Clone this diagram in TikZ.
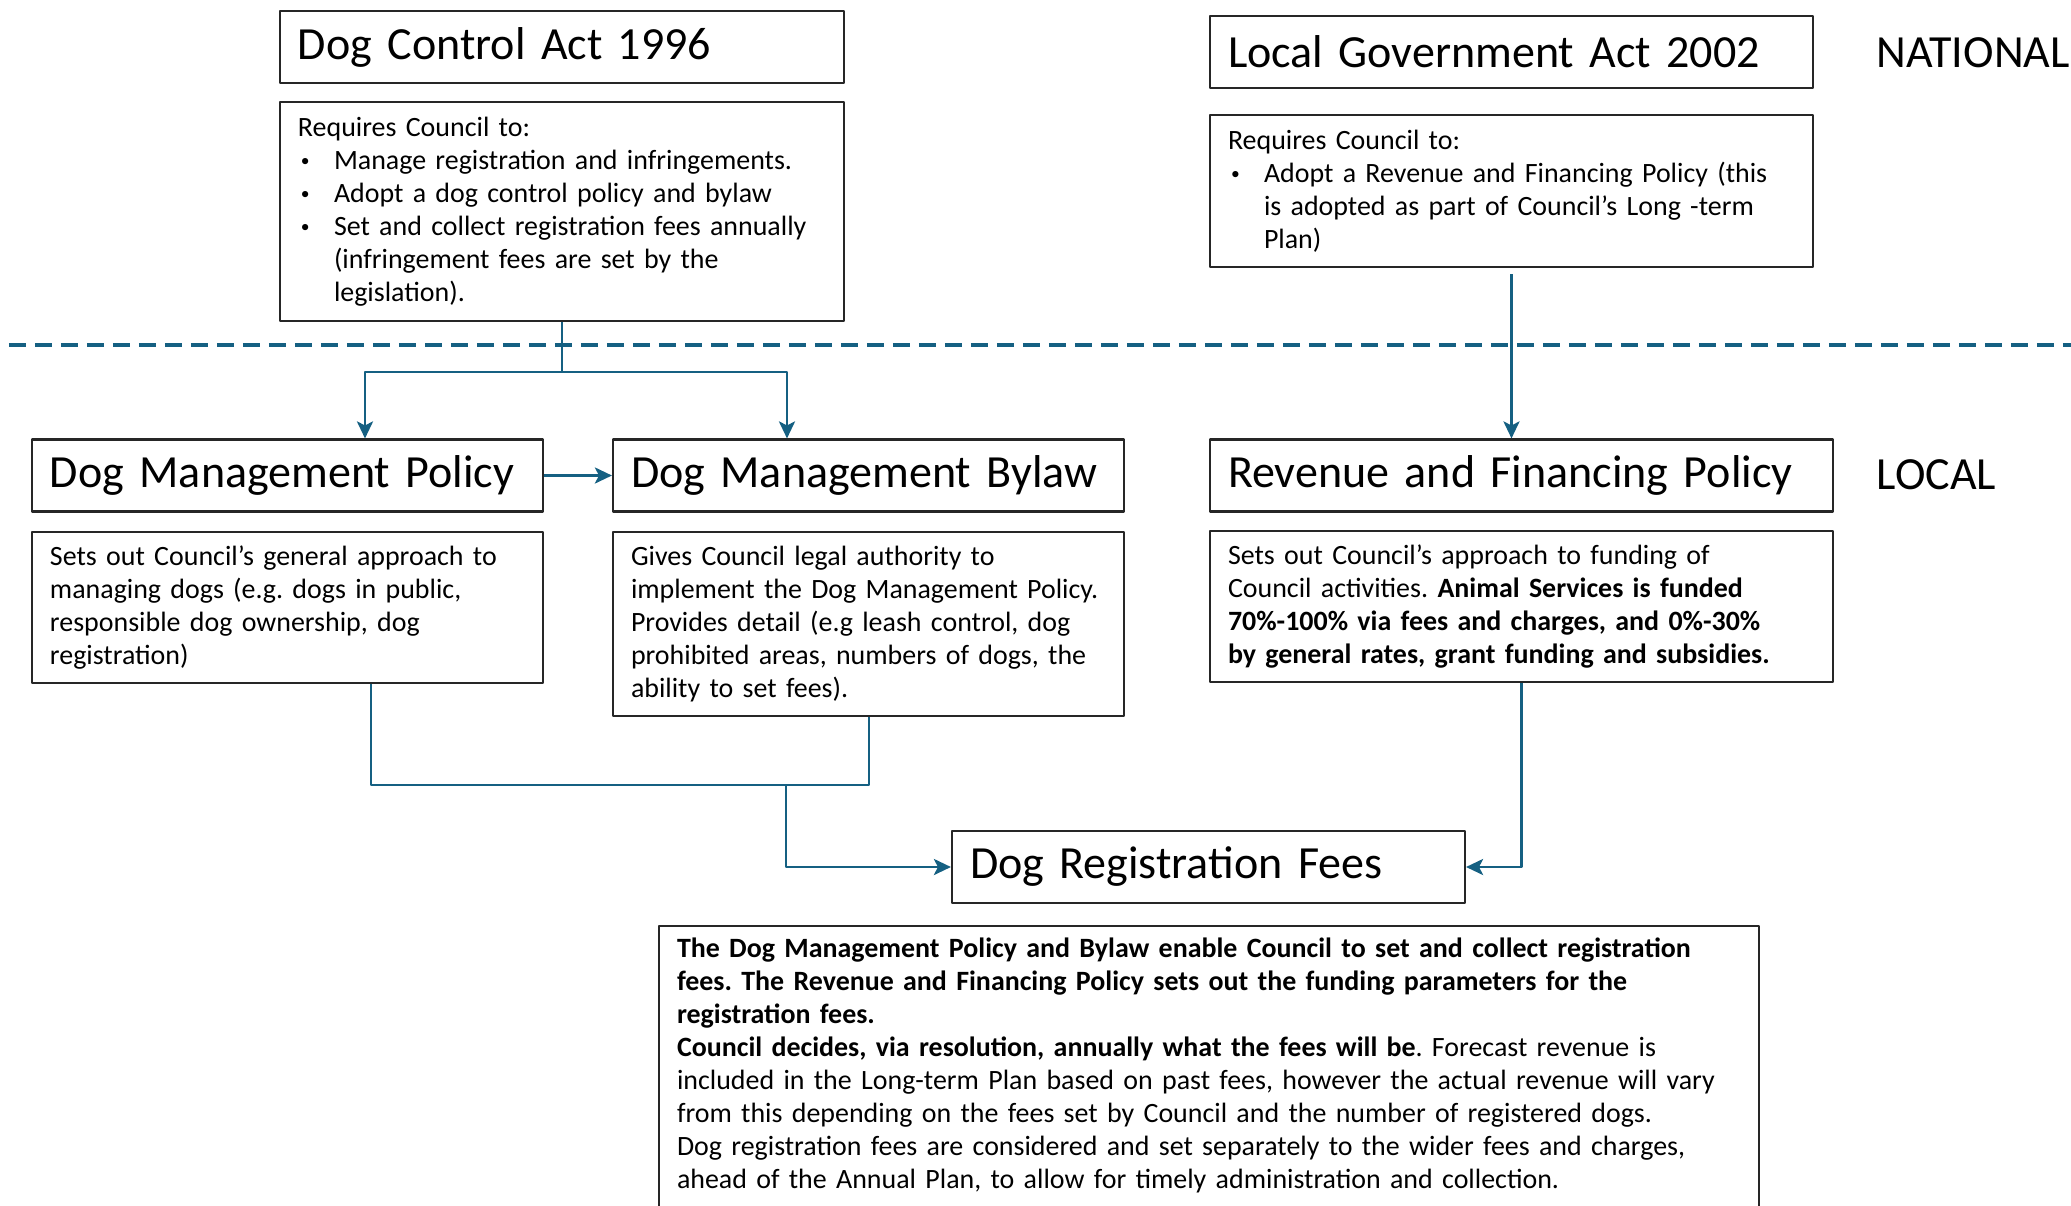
\documentclass[tikz,border=0pt]{standalone}
\usepackage{fontspec}
\setmainfont{Carlito}
\usetikzlibrary{arrows.meta}
\definecolor{flowblue}{HTML}{156082}
\frenchspacing
\newcommand{\bpt}{\makebox[0.36cm][l]{\hspace{0.03cm}\raisebox{0.7pt}{\fontsize{5}{5}\selectfont\textbullet}}}
\newcommand{\bin}{\hspace*{0.36cm}}

\begin{document}
\begin{tikzpicture}[line join=round, >={Stealth[length=1.7mm, width=1.6mm, inset=0.4mm]},
	box/.style={draw=black!85, line width=0.6pt, inner xsep=0.18cm, inner ysep=0pt, align=left},
	head/.style={box, minimum height=0.72cm, font=\fontsize{13.1}{16}\selectfont},
	txt/.style={box, font=\fontsize{7.95}{9.4}\selectfont},
	tag/.style={inner sep=0pt, anchor=west, font=\fontsize{13.1}{16}\selectfont},
	flow/.style={draw=flowblue, line width=0.8pt}]
	\useasboundingbox (0,0) rectangle (20.71,-12.06);
	\clip (0,0) rectangle (20.71,-12.06);
	\path 
	(0.09,-3.45) coordinate (lineL)
	(20.71,-3.45) coordinate (lineR)
	(3.65,-3.72) coordinate (tapL)
	(7.87,-3.72) coordinate (tapR)
	(3.71,-7.85) coordinate (joinL)
	(7.86,-7.85) coordinate (joinM)
	(8.69,-7.85) coordinate (joinR)
	;
	\node[head, text width=5.28cm] (actDC) at (5.62,-0.47) {\mbox{Dog Control Act 1996}};
	\node[txt, text width=5.28cm, minimum height=2.19cm] (reqDC) at (5.62,-2.115) {Requires Council to:\\
		\bpt Manage registration and infringements.\\
		\bpt Adopt a dog control policy and bylaw\\
		\bpt Set and collect registration fees annually\\
		\bin (infringement fees are set by the\\
		\bin legislation).};
	\node[head, text width=5.67cm] (actLG) at (15.115,-0.52) {\mbox{Local Government Act 2002}};
	\node[txt, text width=5.67cm, minimum height=1.52cm] (reqLG) at (15.115,-1.91) {Requires Council to:\\
		\bpt Adopt a Revenue and Financing Policy (this\\
		\bin is adopted as part of Council’s Long -term\\
		\bin Plan)};
	\node[tag] (national) at (18.76,-0.53) {NATIONAL};
	\node[tag] (local) at (18.76,-4.75) {LOCAL};
	\draw[flow, line width=0.9pt, dash pattern=on 0.17cm off 0.09cm] (lineL) -- (lineR);
	
	\node[head, text width=4.75cm] (policy) at (2.875,-4.755) {\mbox{Dog Management Policy}};
	\node[head, text width=4.75cm] (bylaw) at (8.685,-4.755) {\mbox{Dog Management Bylaw}};
	\node[head, text width=5.87cm] (revfin) at (15.215,-4.755) {\mbox{Revenue and Financing Policy}};
	\node[txt, text width=4.75cm, minimum height=1.51cm] (descPolicy) at (2.875,-6.075) {Sets out Council’s general approach to\\
		managing dogs (e.g. dogs in public,\\
		responsible dog ownership, dog\\
		registration)};
	\node[txt, text width=4.75cm, minimum height=1.84cm] (descBylaw) at (8.685,-6.24) {Gives Council legal authority to\\
		implement the Dog Management Policy.\\
		Provides detail (e.g leash control, dog\\
		prohibited areas, numbers of dogs, the\\
		ability to set fees).};
	\node[txt, text width=5.87cm, minimum height=1.51cm] (descRevfin) at (15.215,-6.065) {Sets out Council’s approach to funding of\\
		Council activities. \textbf{Animal Services is funded}\\
		\textbf{70\%-100\% via fees and charges, and 0\%-30\%}\\
		\textbf{by general rates, grant funding and subsidies.}};
	
	\node[head, text width=4.77cm] (fees) at (12.085,-8.67) {\mbox{Dog Registration Fees}};
	\node[txt, text width=10.64cm, anchor=north, inner ysep=0.12cm, text depth=2.8cm] (summary) at (12.09,-9.25) {\textbf{The Dog Management Policy and Bylaw enable Council to set and collect registration}\\
		\textbf{fees. The Revenue and Financing Policy sets out the funding parameters for the}\\
		\textbf{registration fees.}\\
		\textbf{Council decides, via resolution, annually what the fees will be}. Forecast revenue is\\
		included in the Long-term Plan based on past fees, however the actual revenue will vary\\
		from this depending on the fees set by Council and the number of registered dogs.\\
		Dog registration fees are considered and set separately to the wider fees and charges,\\
		ahead of the Annual Plan, to allow for timely administration and collection.};
	
	\draw[flow,->] (reqDC.south) |- (tapL) -- (tapL |- policy.north);
	\draw[flow,->] (reqDC.south) |- (tapR) -- (tapR |- bylaw.north);
	\draw[flow,->] (policy.east) -- (bylaw.west);
	\draw[flow,->, shorten <=0.06cm] (reqLG.south) -- (reqLG.south |- revfin.north);
	\draw[flow] (joinL |- descPolicy.south) -- (joinL) -- (joinR) -- (joinR |- descBylaw.south);
	\draw[flow,->] (joinM) |- (fees.west);
	\draw[flow,->] (descRevfin.south) |- (fees.east);
\end{tikzpicture}
\end{document}
